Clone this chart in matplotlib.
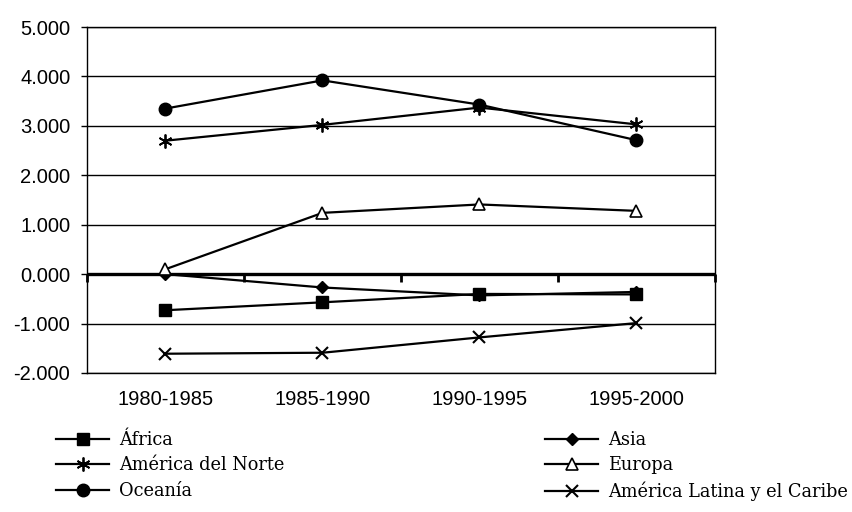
import matplotlib
matplotlib.use('Agg')
import matplotlib.pyplot as plt
from matplotlib.lines import Line2D

periods = ['1980-1985', '1985-1990', '1990-1995', '1995-2000']
africa = [-0.73, -0.57, -0.40, -0.41]
asia = [0.00, -0.27, -0.43, -0.36]
norte = [2.70, 3.02, 3.37, 3.03]
europa = [0.10, 1.24, 1.41, 1.28]
oceania = [3.35, 3.92, 3.43, 2.71]
latina = [-1.61, -1.59, -1.28, -0.99]
yticks = [-2, -1, 0, 1, 2, 3, 4, 5]

labels_left = ['África', 'América del Norte', 'Oceanía']
labels_right = ['Asia', 'Europa', 'América Latina y el Caribe']

fig = plt.figure(figsize=(8.53, 5.12), dpi=100)
ax = fig.add_axes([87 / 853, 1 - 373 / 512, 628 / 853, 346 / 512])

x = list(range(len(periods)))
lw = 1.6
styles = {
    'Asia': dict(marker='D', ms=6.5, mfc='black', mec='black'),
    'África': dict(marker='s', ms=8, mfc='black', mec='black'),
    'América del Norte': dict(marker=(6, 2, 0), ms=10, mec='black', mew=1.3),
    'Europa': dict(marker='^', ms=8.5, mfc='white', mec='black', mew=1.2),
    'Oceanía': dict(marker='o', ms=9, mfc='black', mec='black'),
    'América Latina y el Caribe': dict(marker='x', ms=8, mec='black', mew=1.5),
}
series = {
    'Asia': asia,
    'África': africa,
    'América del Norte': norte,
    'Europa': europa,
    'Oceanía': oceania,
    'América Latina y el Caribe': latina,
}
for name in ['Asia', 'África', 'América Latina y el Caribe', 'América del Norte', 'Oceanía', 'Europa']:
    ax.plot(x, series[name], color='black', lw=lw, zorder=4, clip_on=False, **styles[name])

ax.set_xlim(-0.5, len(periods) - 0.5)
ax.set_ylim(min(yticks), max(yticks))
ax.set_yticks(yticks)
ax.set_yticklabels([f'{v:.3f}' for v in yticks], fontfamily='Liberation Sans', fontsize=14.5)
ax.set_xticks(x)
ax.set_xticklabels(periods, fontfamily='Liberation Sans', fontsize=14.5)
ax.tick_params(axis='x', length=0, pad=12)
ax.tick_params(axis='y', direction='out', length=4, width=1, pad=8)
ax.yaxis.grid(True, color='black', lw=1.0)
ax.set_axisbelow(True)
for s in ax.spines.values():
    s.set_color('black')
    s.set_linewidth(1.0)

ax.axhline(0, color='black', lw=2.4, zorder=3)
zero_frac = (0 - min(yticks)) / (max(yticks) - min(yticks))
sec = ax.secondary_xaxis(zero_frac)
sec.set_xticks([i + 0.5 for i in range(-1, len(periods))])
sec.set_xticklabels([])
sec.tick_params(axis='x', direction='out', length=6, width=2)
sec.spines['bottom'].set_visible(False)

def handles_for(names):
    return [Line2D([0], [0], color='black', lw=lw, **styles[n]) for n in names]

kw = dict(loc='upper left', frameon=False, borderpad=0, borderaxespad=0,
          handlelength=3.0, handletextpad=0.55, labelspacing=0.42,
          prop={'family': 'DejaVu Serif', 'size': 12.8})
leg1 = fig.legend(handles_for(labels_left), labels_left, bbox_to_anchor=(56 / 853, 1 - 431 / 512), **kw)
leg2 = fig.legend(handles_for(labels_right), labels_right, bbox_to_anchor=(545 / 853, 1 - 431 / 512), **kw)

fig.savefig('out.png', dpi=100)
